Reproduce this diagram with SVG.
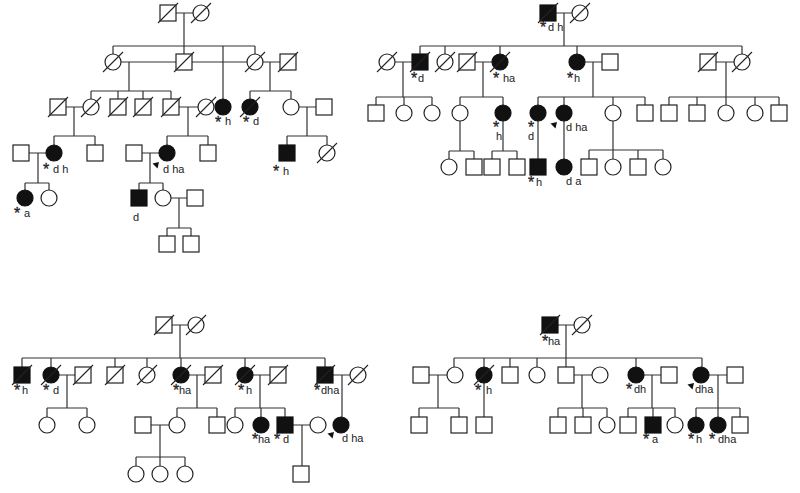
<svg xmlns="http://www.w3.org/2000/svg" width="800" height="493" viewBox="0 0 800 493">
<style>
.s{fill:#fff;stroke:#222;stroke-width:1.2}
.f{fill:#111;stroke:#111;stroke-width:1.2}
.x{stroke:#222;stroke-width:1.1}
#conn path{fill:none;stroke:#333;stroke-width:1.2}
text{font-family:"Liberation Sans",Arial,sans-serif;font-size:11px;fill:#222}
.a{font-size:16px;stroke:#222;stroke-width:0.3}
</style>
<defs>
<rect id="sq" class="s" x="-8" y="-8" width="16" height="16"/>
<rect id="sqf" class="f" x="-8" y="-8" width="16" height="16"/>
<circle id="ci" class="s" r="8"/>
<circle id="cif" class="f" r="8"/>
<line id="dx" class="x" x1="-10" y1="10" x2="10" y2="-10"/>
<path id="ar" d="M0,0 L-6.5,1.5 L-1.5,6.5 Z" fill="#111"/>
</defs>
<rect width="800" height="493" fill="#fff"/>
<g id="conn">
<path d="M176,13H193M184,13V46M113,46H255M113,46V54M184,46V54M223,46V99M255,46V54"/>
<path d="M121,62H176M129,62V91M192,62H247M263,62H280M270,62V91"/>
<path d="M91,91H171M91,91V99M118,91V99M143,91V99M171,91V99M250,91H291M250,91V99M291,91V99"/>
<path d="M66,107H83M74,107V136M179,107H198M188,107V136M299,107H316M307,107V136"/>
<path d="M54,136H95M54,136V145M95,136V145M167,136H208M167,136V145M208,136V145M287,136H327M287,136V145M327,136V145"/>
<path d="M29,153H46M38,153V183M25,183H49M25,183V190M49,183V190M142,153H159M150,153V183M139,183H163M139,183V190M163,183V190"/>
<path d="M171,198H187M179,198V228M167,228H191M167,228V236M191,228V236"/>
<path d="M556,13H572M564,13V46M420,46H742M420,46V54M445,46V54M500,46V54M577,46V54M742,46V54"/>
<path d="M395,62H412M403,62V97M376,97H432M376,97V105M404,97V105M432,97V105"/>
<path d="M475,62H492M483,62V97M460,97H503M460,97V105M503,97V105"/>
<path d="M585,62H602M593,62V97M538,97H645M538,97V105M564,97V105M613,97V105M645,97V105"/>
<path d="M716,62H734M726,62V97M669,97H779M669,97V105M697,97V105M726,97V105M755,97V105M779,97V105"/>
<path d="M460,121V151M449,151H474M449,151V159M474,151V159M503,121V151M492,151H517M492,151V159M517,151V159"/>
<path d="M538,121V159M564,121V159M613,121V150M589,150H663M589,150V159M613,150V159M638,150V159M663,150V159"/>
<path d="M172,325H188M180,325V358M22,358H325M22,358V367M51,358V367M115,358V367M147,358V367M181,358V367M245,358V367M325,358V367"/>
<path d="M59,375H75M67,375V408M47,408H87M47,408V417M87,408V417"/>
<path d="M189,375H205M197,375V408M177,408H217M177,408V417M217,408V417"/>
<path d="M253,375H270M260,375V408M235,408H285M235,408V417M261,408V417M285,408V417"/>
<path d="M333,375H350M342,375V417"/>
<path d="M151,425H169M160,425V457M136,457H185M136,457V466M160,457V466M185,457V466M293,425H310M302,425V466"/>
<path d="M558,325H574M566,325V358M454,358H702M454,358V367M484,358V367M510,358V367M537,358V367M566,358V367M636,358V367M702,358V367"/>
<path d="M429,375H447M438,375V408M419,408H459M419,408V417M459,408V417M484,383V417"/>
<path d="M574,375H592M582,375V408M558,408H607M558,408V417M583,408V417M607,408V417"/>
<path d="M644,375H661M652,375V408M628,408H675M628,408V417M653,408V417M675,408V417"/>
<path d="M709,375H727M718,375V408M696,408H740M696,408V417M718,408V417M740,408V417"/>
</g>
<g id="p1-1"><use href="#sq" x="168" y="13"/><use href="#dx" x="168" y="13"/></g>
<g id="p1-2"><use href="#ci" x="201" y="13"/><use href="#dx" x="201" y="13"/></g>
<g id="p1-3"><use href="#ci" x="113" y="62"/><use href="#dx" x="113" y="62"/></g>
<g id="p1-4"><use href="#sq" x="184" y="62"/><use href="#dx" x="184" y="62"/></g>
<g id="p1-5"><use href="#cif" x="223" y="107"/><text class="a" x="215" y="128">*</text><text x="225" y="125">h</text></g>
<g id="p1-6"><use href="#ci" x="255" y="62"/><use href="#dx" x="255" y="62"/></g>
<g id="p1-7"><use href="#sq" x="288" y="62"/><use href="#dx" x="288" y="62"/></g>
<g id="p1-8"><use href="#sq" x="58" y="107"/><use href="#dx" x="58" y="107"/></g>
<g id="p1-9"><use href="#ci" x="91" y="107"/><use href="#dx" x="91" y="107"/></g>
<g id="p1-10"><use href="#sq" x="118" y="107"/><use href="#dx" x="118" y="107"/></g>
<g id="p1-11"><use href="#sq" x="143" y="107"/><use href="#dx" x="143" y="107"/></g>
<g id="p1-12"><use href="#sq" x="171" y="107"/><use href="#dx" x="171" y="107"/></g>
<g id="p1-13"><use href="#ci" x="206" y="107"/><use href="#dx" x="206" y="107"/></g>
<g id="p1-14"><use href="#cif" x="250" y="107"/><use href="#dx" x="250" y="107"/><text class="a" x="243" y="128">*</text><text x="253" y="125">d</text></g>
<g id="p1-15"><use href="#ci" x="291" y="107"/></g>
<g id="p1-16"><use href="#sq" x="324" y="107"/></g>
<g id="p1-17"><use href="#sq" x="21" y="153"/></g>
<g id="p1-18"><use href="#cif" x="54" y="153"/><text class="a" x="43" y="175">*</text><text x="53" y="173">d h</text></g>
<g id="p1-19"><use href="#sq" x="95" y="153"/></g>
<g id="p1-20"><use href="#sq" x="134" y="153"/></g>
<g id="p1-21"><use href="#cif" x="167" y="153"/><use href="#ar" x="159" y="162"/><text x="163" y="173">d ha</text></g>
<g id="p1-22"><use href="#sq" x="208" y="153"/></g>
<g id="p1-23"><use href="#sqf" x="287" y="153"/><text class="a" x="273" y="177">*</text><text x="283" y="175">h</text></g>
<g id="p1-24"><use href="#ci" x="327" y="153"/><use href="#dx" x="327" y="153"/></g>
<g id="p1-25"><use href="#cif" x="25" y="198"/><text class="a" x="14" y="219">*</text><text x="24" y="217">a</text></g>
<g id="p1-26"><use href="#ci" x="49" y="198"/></g>
<g id="p1-27"><use href="#sqf" x="139" y="198"/><text x="133" y="221">d</text></g>
<g id="p1-28"><use href="#ci" x="163" y="198"/></g>
<g id="p1-29"><use href="#sq" x="195" y="198"/></g>
<g id="p1-30"><use href="#sq" x="167" y="244"/></g>
<g id="p1-31"><use href="#sq" x="191" y="244"/></g>
<g id="p2-1"><use href="#sqf" x="548" y="13"/><use href="#dx" x="548" y="13"/><text class="a" x="540" y="33">*</text><text x="548" y="31">d h</text></g>
<g id="p2-2"><use href="#ci" x="580" y="13"/><use href="#dx" x="580" y="13"/></g>
<g id="p2-3"><use href="#ci" x="387" y="62"/><use href="#dx" x="387" y="62"/></g>
<g id="p2-4"><use href="#sqf" x="420" y="62"/><use href="#dx" x="420" y="62"/><text class="a" x="411" y="84">*</text><text x="418" y="82">d</text></g>
<g id="p2-5"><use href="#ci" x="445" y="62"/><use href="#dx" x="445" y="62"/></g>
<g id="p2-6"><use href="#sq" x="467" y="62"/><use href="#dx" x="467" y="62"/></g>
<g id="p2-7"><use href="#cif" x="500" y="62"/><use href="#dx" x="500" y="62"/><text class="a" x="493" y="84">*</text><text x="503" y="82">ha</text></g>
<g id="p2-8"><use href="#cif" x="577" y="62"/><text class="a" x="567" y="84">*</text><text x="574" y="82">h</text></g>
<g id="p2-9"><use href="#sq" x="610" y="62"/></g>
<g id="p2-10"><use href="#sq" x="708" y="62"/><use href="#dx" x="708" y="62"/></g>
<g id="p2-11"><use href="#ci" x="742" y="62"/><use href="#dx" x="742" y="62"/></g>
<g id="p2-12"><use href="#sq" x="376" y="113"/></g>
<g id="p2-13"><use href="#ci" x="404" y="113"/></g>
<g id="p2-14"><use href="#ci" x="432" y="113"/></g>
<g id="p2-15"><use href="#ci" x="460" y="113"/></g>
<g id="p2-16"><use href="#cif" x="503" y="113"/><text class="a" x="493" y="133">*</text><text x="496" y="140">h</text></g>
<g id="p2-17"><use href="#cif" x="538" y="113"/><text class="a" x="528" y="133">*</text><text x="528" y="140">d</text></g>
<g id="p2-18"><use href="#cif" x="564" y="113"/><use href="#ar" x="557" y="122"/><text x="566" y="131">d ha</text></g>
<g id="p2-19"><use href="#ci" x="613" y="113"/></g>
<g id="p2-20"><use href="#sq" x="645" y="113"/></g>
<g id="p2-21"><use href="#sq" x="669" y="113"/></g>
<g id="p2-22"><use href="#sq" x="697" y="113"/></g>
<g id="p2-23"><use href="#ci" x="726" y="113"/></g>
<g id="p2-24"><use href="#ci" x="755" y="113"/></g>
<g id="p2-25"><use href="#sq" x="779" y="113"/></g>
<g id="p2-26"><use href="#ci" x="449" y="167"/></g>
<g id="p2-27"><use href="#sq" x="474" y="167"/></g>
<g id="p2-28"><use href="#sq" x="492" y="167"/></g>
<g id="p2-29"><use href="#sq" x="517" y="167"/></g>
<g id="p2-30"><use href="#sqf" x="538" y="167"/><text class="a" x="528" y="188">*</text><text x="536" y="186">h</text></g>
<g id="p2-31"><use href="#cif" x="564" y="167"/><text x="566" y="185">d a</text></g>
<g id="p2-32"><use href="#sq" x="589" y="167"/></g>
<g id="p2-33"><use href="#ci" x="613" y="167"/></g>
<g id="p2-34"><use href="#sq" x="638" y="167"/></g>
<g id="p2-35"><use href="#ci" x="663" y="167"/></g>
<g id="p3-1"><use href="#sq" x="164" y="325"/><use href="#dx" x="164" y="325"/></g>
<g id="p3-2"><use href="#ci" x="196" y="325"/><use href="#dx" x="196" y="325"/></g>
<g id="p3-3"><use href="#sqf" x="22" y="375"/><use href="#dx" x="22" y="375"/><text class="a" x="14" y="396">*</text><text x="22" y="394">h</text></g>
<g id="p3-4"><use href="#cif" x="51" y="375"/><use href="#dx" x="51" y="375"/><text class="a" x="43" y="396">*</text><text x="53" y="394">d</text></g>
<g id="p3-5"><use href="#sq" x="83" y="375"/><use href="#dx" x="83" y="375"/></g>
<g id="p3-6"><use href="#sq" x="115" y="375"/><use href="#dx" x="115" y="375"/></g>
<g id="p3-7"><use href="#ci" x="147" y="375"/><use href="#dx" x="147" y="375"/></g>
<g id="p3-8"><use href="#cif" x="181" y="375"/><use href="#dx" x="181" y="375"/><text class="a" x="173" y="396">*</text><text x="179" y="394">ha</text></g>
<g id="p3-9"><use href="#sq" x="213" y="375"/><use href="#dx" x="213" y="375"/></g>
<g id="p3-10"><use href="#cif" x="245" y="375"/><use href="#dx" x="245" y="375"/><text class="a" x="238" y="396">*</text><text x="246" y="394">h</text></g>
<g id="p3-11"><use href="#sq" x="278" y="375"/><use href="#dx" x="278" y="375"/></g>
<g id="p3-12"><use href="#sqf" x="325" y="375"/><use href="#dx" x="325" y="375"/><text class="a" x="314" y="396">*</text><text x="321" y="394">dha</text></g>
<g id="p3-13"><use href="#ci" x="358" y="375"/><use href="#dx" x="358" y="375"/></g>
<g id="p3-14"><use href="#ci" x="47" y="425"/></g>
<g id="p3-15"><use href="#ci" x="87" y="425"/></g>
<g id="p3-16"><use href="#sq" x="143" y="425"/></g>
<g id="p3-17"><use href="#ci" x="177" y="425"/></g>
<g id="p3-18"><use href="#sq" x="217" y="425"/></g>
<g id="p3-19"><use href="#ci" x="235" y="425"/></g>
<g id="p3-20"><use href="#cif" x="261" y="425"/><text class="a" x="252" y="445">*</text><text x="258" y="443">ha</text></g>
<g id="p3-21"><use href="#sqf" x="285" y="425"/><text class="a" x="274" y="445">*</text><text x="283" y="443">d</text></g>
<g id="p3-22"><use href="#ci" x="318" y="425"/></g>
<g id="p3-23"><use href="#cif" x="341" y="425"/><use href="#ar" x="334" y="432"/><text x="342" y="442">d ha</text></g>
<g id="p3-24"><use href="#ci" x="136" y="474"/></g>
<g id="p3-25"><use href="#ci" x="160" y="474"/></g>
<g id="p3-26"><use href="#ci" x="185" y="474"/></g>
<g id="p3-27"><use href="#sq" x="301" y="474"/></g>
<g id="p4-1"><use href="#sqf" x="550" y="325"/><use href="#dx" x="550" y="325"/><text class="a" x="542" y="347">*</text><text x="548" y="345">ha</text></g>
<g id="p4-2"><use href="#ci" x="582" y="325"/><use href="#dx" x="582" y="325"/></g>
<g id="p4-3"><use href="#sq" x="421" y="375"/></g>
<g id="p4-4"><use href="#ci" x="455" y="375"/></g>
<g id="p4-5"><use href="#cif" x="484" y="375"/><use href="#dx" x="484" y="375"/><text class="a" x="475" y="396">*</text><text x="486" y="394">h</text></g>
<g id="p4-6"><use href="#sq" x="510" y="375"/></g>
<g id="p4-7"><use href="#ci" x="537" y="375"/></g>
<g id="p4-8"><use href="#sq" x="566" y="375"/></g>
<g id="p4-9"><use href="#ci" x="600" y="375"/></g>
<g id="p4-10"><use href="#cif" x="636" y="375"/><text class="a" x="626" y="395">*</text><text x="634" y="393">dh</text></g>
<g id="p4-11"><use href="#sq" x="669" y="375"/></g>
<g id="p4-12"><use href="#cif" x="701" y="375"/><use href="#ar" x="694" y="383"/><text x="695" y="393">dha</text></g>
<g id="p4-13"><use href="#sq" x="735" y="375"/></g>
<g id="p4-14"><use href="#sq" x="419" y="425"/></g>
<g id="p4-15"><use href="#sq" x="459" y="425"/></g>
<g id="p4-16"><use href="#sq" x="484" y="425"/></g>
<g id="p4-17"><use href="#sq" x="558" y="425"/></g>
<g id="p4-18"><use href="#sq" x="583" y="425"/></g>
<g id="p4-19"><use href="#ci" x="607" y="425"/></g>
<g id="p4-20"><use href="#sq" x="628" y="425"/></g>
<g id="p4-21"><use href="#sqf" x="653" y="425"/><text class="a" x="643" y="445">*</text><text x="652" y="443">a</text></g>
<g id="p4-22"><use href="#ci" x="675" y="425"/></g>
<g id="p4-23"><use href="#cif" x="696" y="425"/><text class="a" x="688" y="445">*</text><text x="696" y="443">h</text></g>
<g id="p4-24"><use href="#cif" x="718" y="425"/><text class="a" x="709" y="445">*</text><text x="718" y="443">dha</text></g>
<g id="p4-25"><use href="#sq" x="740" y="425"/></g>
</svg>
